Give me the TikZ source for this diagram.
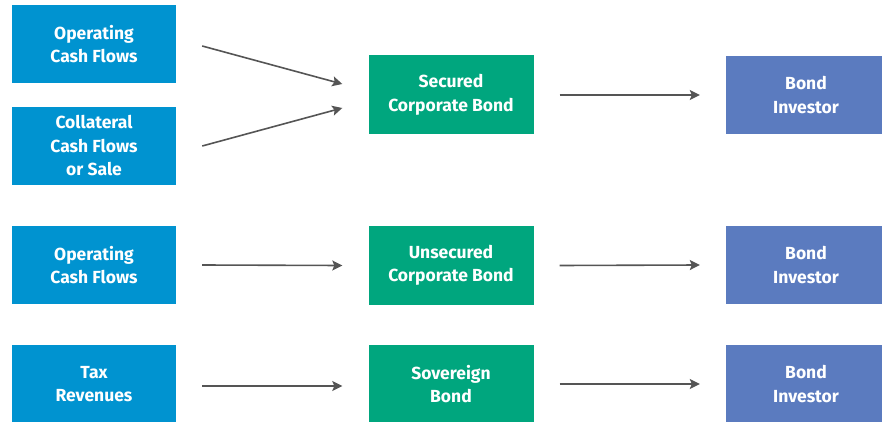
\documentclass[tikz,border=0pt]{standalone}
\usepackage{fontspec}
\setmainfont{Fira Sans}
\usetikzlibrary{arrows.meta}
\definecolor{srcBlue}{RGB}{0,147,208}
\definecolor{bondGreen}{RGB}{0,166,126}
\definecolor{invPurple}{RGB}{91,123,191}
\definecolor{flowGray}{RGB}{85,85,85}

\tikzset{
  box/.style={inner sep=0pt,align=center,text=white,
    font=\bfseries\fontsize{17.5}{23.5}\selectfont},
  srcbox/.style={box,fill=srcBlue,minimum width=164pt,minimum height=78pt},
  bondbox/.style={box,fill=bondGreen,minimum width=165pt,minimum height=79pt},
  invbox/.style={box,fill=invPurple,minimum width=160pt,minimum height=78pt},
  flow/.style={flowGray,line width=1.6pt,
    -{Stealth[length=10pt,width=10pt,inset=2pt]}}
}

\begin{document}
\begin{tikzpicture}[x=1pt,y=-1pt]
  \useasboundingbox (0,0) rectangle (882,422);
  % sources
  \node[srcbox] (opA) at (94,44) {Operating\\Cash Flows};
  \node[srcbox] (coll) at (94,146) {Collateral\\Cash Flows\\or Sale};
  \node[srcbox] (opB) at (94,265) {Operating\\Cash Flows};
  \node[srcbox] (tax) at (94,384) {Tax\\Revenues};
  % bonds
  \node[bondbox] (sec) at (451,95) {Secured\\Corporate Bond};
  \node[bondbox] (unsec) at (451,265.5) {Unsecured\\Corporate Bond};
  \node[bondbox] (sov) at (451,384) {Sovereign\\Bond};
  % investors
  \node[invbox] (invA) at (806,95) {Bond\\Investor};
  \node[invbox] (invB) at (806,265) {Bond\\Investor};
  \node[invbox] (invC) at (806,384) {Bond\\Investor};

  \draw[flow] ([xshift=26pt,yshift=-2pt]opA.east) -- ([xshift=-26pt,yshift=11pt]sec.west);
  \draw[flow] ([xshift=26pt]coll.east) -- ([xshift=-26pt,yshift=-13pt]sec.west);
  \draw[flow] ([xshift=26pt]opB.east) -- ([xshift=-26pt]unsec.west);
  \draw[flow] ([xshift=26pt,yshift=-2pt]tax.east) -- ([xshift=-26pt,yshift=-2pt]sov.west);
  \foreach \b/\i in {sec/invA,unsec/invB,sov/invC}
    \draw[flow] ([xshift=26pt]\b.east) -- ([xshift=-26pt]\i.west);
\end{tikzpicture}
\end{document}
